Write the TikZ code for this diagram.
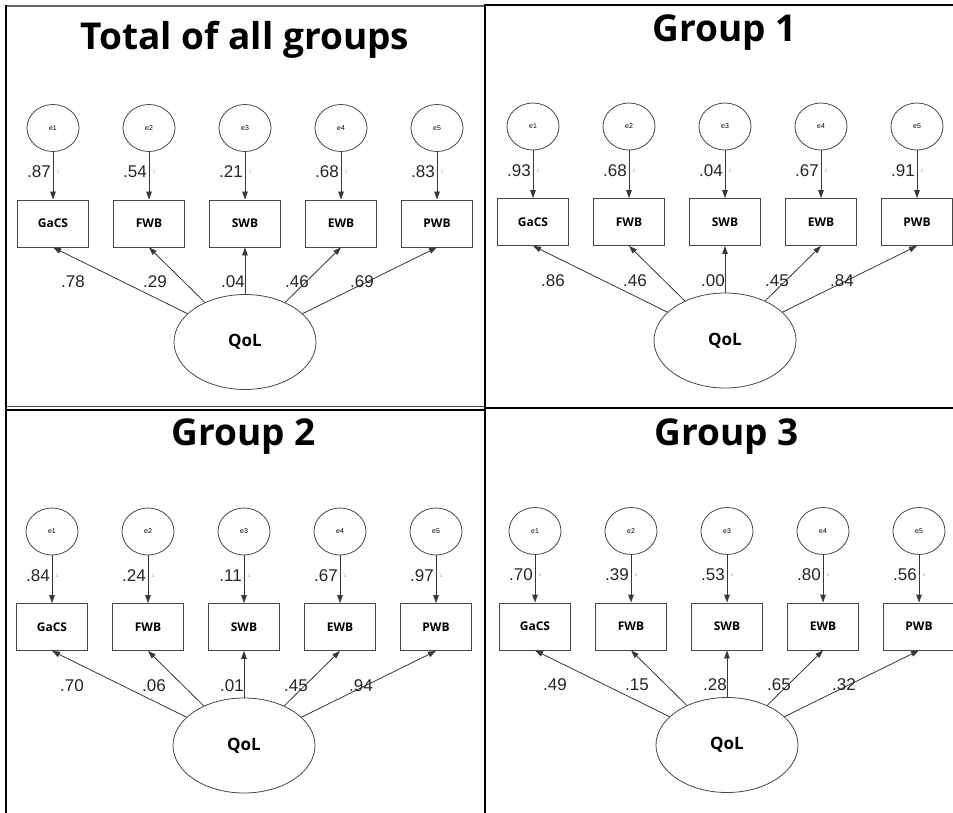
\documentclass[tikz,border=0pt]{standalone}
\usepackage{fontspec}
\setmainfont{Liberation Sans}
\newfontfamily\headfont{Open Sans}
\usetikzlibrary{arrows.meta,shapes.geometric}

\tikzset{
  frameline/.style={draw=black, line width=1.6pt},
  errc/.style={ellipse, draw=black!72, line width=0.8pt, minimum width=52pt,
    minimum height=47pt, inner sep=0pt, font=\fontsize{7}{8}\selectfont},
  obsbox/.style={rectangle, draw=black!72, line width=0.8pt, minimum width=71pt,
    minimum height=47pt, inner sep=0pt, font=\headfont\bfseries\fontsize{12}{13}\selectfont},
  latent/.style={ellipse, draw=black!72, line width=0.8pt, minimum width=142pt,
    minimum height=95pt, inner sep=0pt, font=\headfont\bfseries\fontsize{17}{18}\selectfont},
  arr/.style={draw=black!78, line width=0.8pt, -{Triangle[length=8pt,width=5.5pt]}},
  coef/.style={inner sep=0pt, font=\fontsize{17}{18}\selectfont, text=black!85},
  unitlab/.style={inner sep=0pt, font=\fontsize{5}{5}\selectfont, text=black!35},
  paneltitle/.style={inner sep=0pt, anchor=base, font=\headfont\bfseries\fontsize{37}{40}\selectfont}
}

% one measurement model: #1,#2 shift, #3 title, #4 title baseline,
% #5 error loadings, #6 path coefficients, #7 name prefix
\newcommand\sempanel[7]{%
\begin{scope}[shift={(#1,#2)}, name prefix=#7-]
  \node[paneltitle] (title) at (245,#4) {#3};
  \node[latent] (qol) at (245,342) {QoL};
  \foreach \v [count=\i] in {GaCS,FWB,SWB,EWB,PWB}{
    \pgfmathsetmacro\xx{53+96*(\i-1)}
    \node[errc] (e\i) at (\xx,128) {e\i};
    \node[obsbox] (b\i) at (\xx,223.5) {\v};
    \draw[arr] (e\i) -- (b\i);
    \draw[arr] (qol) -- (b\i.south);
    \node[unitlab] (u\i) at (\xx+5,172) {1};
  }
  \foreach \c [count=\i] in {#5}{
    \pgfmathsetmacro\xx{53+96*(\i-1)-2}
    \node[coef, anchor=east] (l\i) at (\xx,172) {\c};
  }
  \foreach \c [count=\i] in {#6}{
    \pgfmathsetmacro\px{{73,155,233,297,362}[\i-1]}
    \node[coef] (p\i) at (\px,282) {\c};
  }
\end{scope}}

\begin{document}
\begin{tikzpicture}[x=1pt,y=-1pt]
  \useasboundingbox (0,0) rectangle (953,813);
  \fill[white] (0,0) rectangle (953,813);

  % panel frames
  \draw[draw=black!60, line width=1.4pt] (6,6) -- (485,6);
  \draw[frameline] (485,5) -- (953,5);
  \draw[frameline] (6,5.5) -- (6,813);
  \draw[frameline] (485,4.5) -- (485,813);
  \draw[draw=black!70, line width=1.2pt] (6,406.5) -- (485,406.5);
  \draw[frameline] (6,410) -- (485,410);
  \draw[frameline] (485,408) -- (953,408);

  \sempanel{0}{0}{Total of all groups}{50}{.87,.54,.21,.68,.83}{.78,.29,.04,.46,.69}{tot}
  \sempanel{480}{-1.5}{Group 1}{43.5}{.93,.68,.04,.67,.91}{.86,.46,.00,.45,.84}{ga}
  \sempanel{-1}{403.5}{Group 2}{42}{.84,.24,.11,.67,.97}{.70,.06,.01,.45,.94}{gb}
  \sempanel{482}{403}{Group 3}{42}{.70,.39,.53,.80,.56}{.49,.15,.28,.65,.32}{gc}
\end{tikzpicture}
\end{document}
